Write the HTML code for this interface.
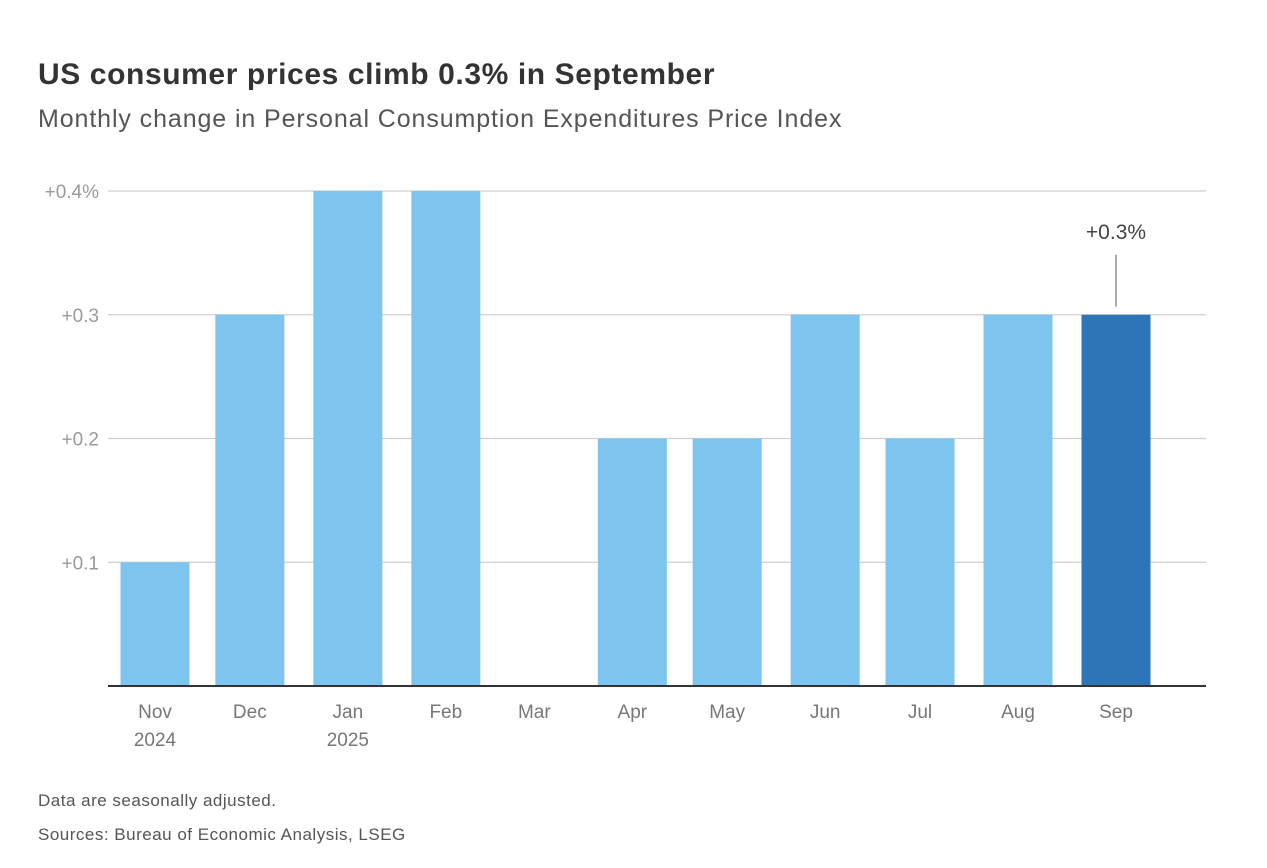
<!DOCTYPE html>
<html><head><meta charset="utf-8">
<style>
body{margin:0;background:#fff;width:1267px;height:868px;overflow:hidden;font-family:"Liberation Sans",sans-serif;}
#title{position:absolute;left:38px;top:58px;font-size:30px;font-weight:bold;color:#333;letter-spacing:0.6px;}
#sub{position:absolute;left:38px;top:105px;font-size:25px;color:#555;letter-spacing:0.9px;}
.note{position:absolute;left:38px;font-size:17px;color:#555;letter-spacing:0.5px;}
svg{position:absolute;left:0;top:0;}
</style></head><body>
<div id="title">US consumer prices climb 0.3% in September</div>
<div id="sub">Monthly change in Personal Consumption Expenditures Price Index</div>
<svg id="chart" width="1267" height="868"></svg>
<div class="note" style="top:791px">Data are seasonally adjusted.</div>
<div class="note" style="top:825px">Sources: Bureau of Economic Analysis, LSEG</div>
<script>
const months=["2024-11-01","2024-12-01","2025-01-01","2025-02-01","2025-03-01","2025-04-01","2025-05-01","2025-06-01","2025-07-01","2025-08-01","2025-09-01"];
const labels=["Nov","Dec","Jan","Feb","Mar","Apr","May","Jun","Jul","Aug","Sep"];
const yearLabels=["2024","","2025","","","","","","","",""];
const values=[0.1,0.3,0.4,0.4,0.0,0.2,0.2,0.3,0.2,0.3,0.3];
const ticks=[0.1,0.2,0.3,0.4];
const tickLabels=["+0.1","+0.2","+0.3","+0.4%"];
const annotation="+0.3%";
const NS="http://www.w3.org/2000/svg";
const svg=document.getElementById('chart');
const t0=Date.parse(months[0]),t1=Date.parse(months[months.length-1]);
const x=d=>155+(Date.parse(d)-t0)/(t1-t0)*(1116-155);
const y=v=>686-v*1237.5;
function mk(tag,a){const e=document.createElementNS(NS,tag);for(const k in a)e.setAttribute(k,a[k]);svg.appendChild(e);return e;}
ticks.forEach((t,i)=>{
  const l=mk('line',{x1:108,x2:1206,y1:y(t),y2:y(t),stroke:'#cfcfcf','stroke-width':1.3});
  
  
  const tx=mk('text',{x:99,y:y(t)+7,'text-anchor':'end','font-size':19,fill:'#9a9a9a'});
  tx.textContent=tickLabels[i];
  
  
});
values.forEach((v,i)=>{
  const cx=x(months[i]);
  const r=mk('rect',{x:cx-34.5,y:y(v),width:69,height:686-y(v),fill:i===values.length-1?'#2e75b7':'#7dc4ee'});
  
  
  const tx=mk('text',{x:cx,y:718,'text-anchor':'middle','font-size':19,fill:'#777'});
  tx.textContent=labels[i];
  
  
  if(yearLabels[i]){
    const yr=mk('text',{x:cx,y:746,'text-anchor':'middle','font-size':19,fill:'#777'});
    yr.textContent=yearLabels[i];
    
    
  }
});
const base=mk('line',{x1:108,x2:1206,y1:686,y2:686,stroke:'#333','stroke-width':2});


const lx=x(months[months.length-1]),lv=values[values.length-1];
const al=mk('line',{x1:lx,x2:lx,y1:y(lv)-8,y2:y(lv)-60,stroke:'#555','stroke-width':1});


const at=mk('text',{x:lx,y:y(lv)-76,'text-anchor':'middle','font-size':21,fill:'#444'});
at.textContent=annotation;


</script>
</body></html>
